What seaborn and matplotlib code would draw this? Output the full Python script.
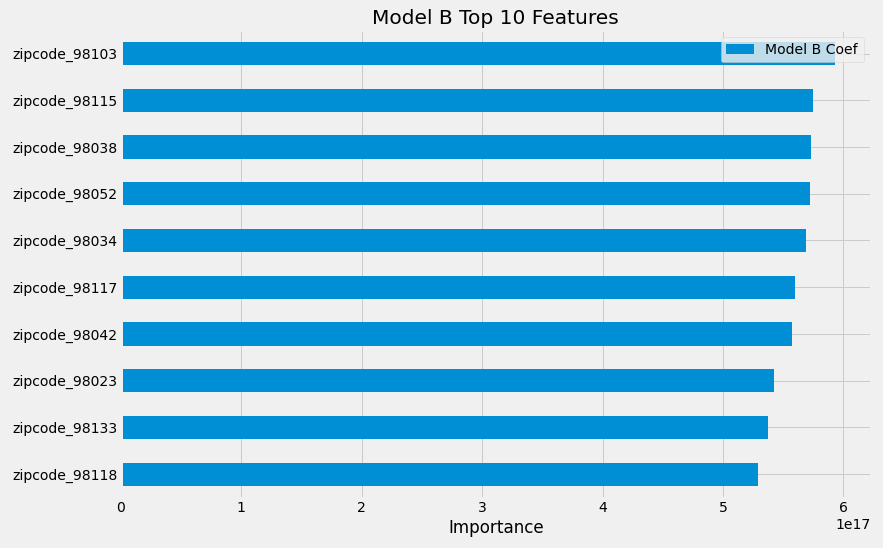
import matplotlib
matplotlib.use("Agg")
import matplotlib.pyplot as plt
import seaborn as sns
import pandas as pd

features = ["zipcode_98103", "zipcode_98115", "zipcode_98038", "zipcode_98052",
            "zipcode_98034", "zipcode_98117", "zipcode_98042", "zipcode_98023",
            "zipcode_98133", "zipcode_98118"]
coef_e17 = [5.93, 5.75, 5.73, 5.72, 5.69, 5.60, 5.57, 5.42, 5.37, 5.29]

plt.style.use("fivethirtyeight")
plt.rcParams["font.family"] = ["DejaVu Sans"]

df = pd.DataFrame({"feature": features, "coef": [v * 1e17 for v in coef_e17]})

fig, ax = plt.subplots(figsize=(883 / 72, 548 / 72), dpi=72)
sns.barplot(data=df, x="coef", y="feature", orient="h", color="#008fd5",
            saturation=1, width=0.5, label="Model B Coef", ax=ax)
ax.set_title("Model B Top 10 Features")
ax.set_xlabel("Importance")
ax.set_ylabel("")
ax.set_xlim(0, max(df["coef"]) * 1.05)
ax.grid(True, axis="both")
ax.legend(loc="upper right")
fig.subplots_adjust(left=0.137, right=0.986, top=0.945, bottom=0.092)
fig.savefig("out.png", dpi=72)
